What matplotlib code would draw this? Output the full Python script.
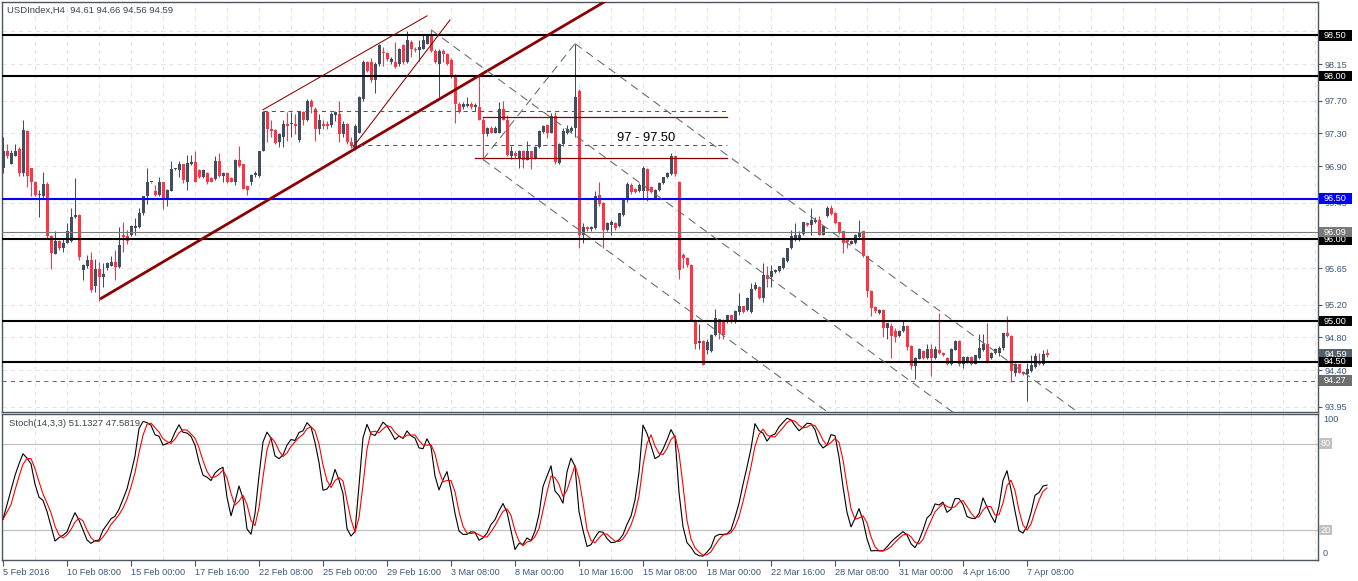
import numpy as np
import pandas as pd
import matplotlib
matplotlib.use('Agg')
import matplotlib.pyplot as plt
from matplotlib.patches import Rectangle
import matplotlib.transforms as mtransforms

plt.rcParams['font.family'] = ['Liberation Sans', 'DejaVu Sans']
plt.rcParams['lines.scale_dashes'] = False

# H4 bars, bar 0 = 5 Feb 2016
opens = [96.88, 97.08, 96.92, 97.02, 97.11, 96.81, 97.33, 96.87, 96.71, 96.55,
         96.53, 96.68, 96.04, 95.82, 95.98, 95.90, 95.96, 95.98, 96.27, 96.30,
         95.63, 95.67, 95.75, 95.43, 95.64, 95.54, 95.65, 95.68, 95.72, 95.66,
         96.05, 96.04, 96.06, 96.14, 96.15, 96.33, 96.53, 96.70, 96.59, 96.54,
         96.70, 96.48, 96.59, 96.86, 96.85, 96.92, 96.71, 96.92, 96.95, 96.85,
         96.76, 96.82, 96.75, 96.74, 96.96, 96.78, 96.82, 96.75, 96.71, 96.98,
         96.92, 96.65, 96.71, 96.79, 96.78, 97.08, 97.56, 97.35, 97.34, 97.19,
         97.26, 97.41, 97.41, 97.41, 97.22, 97.56, 97.47, 97.70, 97.60, 97.35,
         97.41, 97.41, 97.40, 97.52, 97.54, 97.29, 97.41, 97.20, 97.12, 97.31,
         97.72, 98.17, 98.17, 97.95, 98.15, 98.30, 98.28, 98.17, 98.17, 98.15,
         98.38, 98.17, 98.42, 98.34, 98.32, 98.34, 98.40, 98.50, 98.31, 98.15,
         98.31, 98.27, 98.20, 98.01, 97.66, 97.62, 97.63, 97.66, 97.62, 97.62,
         97.47, 97.29, 97.37, 97.31, 97.31, 97.60, 97.47, 97.02, 97.06, 97.00,
         97.08, 96.98, 97.08, 97.00, 97.13, 97.32, 97.40, 97.31, 97.51, 96.94,
         97.17, 97.31, 97.33, 97.37, 97.82, 96.06, 96.15, 96.13, 96.14, 96.54,
         96.45, 96.12, 96.18, 96.20, 96.16, 96.30, 96.48, 96.67, 96.62, 96.59,
         96.59, 96.86, 96.64, 96.51, 96.61, 96.69, 96.76, 96.80, 97.02, 96.71,
         95.81, 95.77, 95.69, 95.01, 94.73, 94.76, 94.64, 94.63, 94.83, 95.02,
         95.01, 94.99, 95.07, 94.99, 95.11, 95.18, 95.13, 95.11, 95.39, 95.42,
         95.28, 95.57, 95.54, 95.60, 95.61, 95.65, 95.74, 95.89, 95.99, 96.02,
         96.07, 96.20, 96.18, 96.21, 96.24, 96.06, 96.29, 96.39, 96.33, 96.21,
         96.10, 96.00, 95.95, 95.96, 96.03, 96.10, 95.80, 95.37, 95.17, 95.10,
         95.14, 94.92, 94.94, 94.88, 94.82, 94.88, 94.94, 94.70, 94.45, 94.54,
         94.63, 94.55, 94.66, 94.55, 94.65, 94.61, 94.55, 94.47, 94.65, 94.76,
         94.47, 94.50, 94.56, 94.48, 94.55, 94.65, 94.72, 94.55, 94.61, 94.61,
         94.67, 94.86, 94.82, 94.37, 94.47, 94.38, 94.35, 94.39, 94.44, 94.50,
         94.47, 94.61]
highs = [97.26, 97.17, 97.10, 97.17, 97.13, 97.47, 97.34, 96.88, 96.72, 96.61,
         96.83, 96.70, 96.06, 96.10, 95.99, 96.00, 96.20, 96.38, 96.75, 96.31,
         95.70, 95.81, 95.85, 95.76, 95.73, 95.71, 95.73, 95.80, 95.87, 96.15,
         96.22, 96.12, 96.18, 96.26, 96.39, 96.53, 96.87, 96.71, 96.67, 96.76,
         96.71, 96.62, 96.96, 96.87, 96.96, 96.93, 97.04, 97.04, 97.08, 96.86,
         96.86, 96.83, 96.76, 97.02, 97.06, 96.83, 96.83, 96.77, 96.99, 97.15,
         96.93, 96.66, 96.80, 96.84, 97.08, 97.58, 97.58, 97.47, 97.35, 97.30,
         97.47, 97.56, 97.56, 97.54, 97.56, 97.58, 97.72, 97.72, 97.62, 97.54,
         97.47, 97.45, 97.56, 97.58, 97.70, 97.45, 97.43, 97.26, 97.42, 97.76,
         98.20, 98.19, 98.22, 98.17, 98.39, 98.36, 98.30, 98.24, 98.42, 98.35,
         98.40, 98.56, 98.44, 98.36, 98.44, 98.50, 98.52, 98.57, 98.33, 98.33,
         98.33, 98.28, 98.22, 98.03, 97.68, 97.68, 97.74, 97.68, 97.67, 98.01,
         97.49, 97.38, 97.39, 97.39, 97.68, 97.70, 97.52, 97.15, 97.08, 97.10,
         97.10, 97.21, 97.09, 97.14, 97.34, 97.40, 97.41, 97.55, 97.56, 97.18,
         97.36, 97.40, 97.39, 98.40, 97.84, 96.20, 96.16, 96.17, 96.59, 96.71,
         96.46, 96.21, 96.24, 96.21, 96.33, 96.50, 96.70, 96.69, 96.63, 96.69,
         96.90, 96.87, 96.65, 96.62, 96.70, 96.77, 96.83, 97.06, 97.04, 96.72,
         95.83, 95.79, 95.70, 95.02, 94.97, 94.77, 94.78, 94.84, 95.15, 95.03,
         95.02, 95.08, 95.08, 95.13, 95.34, 95.19, 95.29, 95.47, 95.48, 95.43,
         95.71, 95.67, 95.69, 95.64, 95.68, 95.78, 95.90, 96.12, 96.20, 96.10,
         96.22, 96.21, 96.39, 96.28, 96.29, 96.17, 96.41, 96.42, 96.34, 96.22,
         96.11, 96.01, 95.99, 96.07, 96.24, 96.11, 95.81, 95.38, 95.18, 95.15,
         95.15, 94.98, 94.98, 94.92, 94.89, 95.01, 94.95, 94.71, 94.56, 94.67,
         94.64, 94.72, 94.72, 94.70, 95.10, 94.62, 94.56, 94.67, 94.77, 94.77,
         94.57, 94.57, 94.57, 94.59, 94.84, 94.84, 94.98, 94.62, 94.67, 94.70,
         94.86, 95.06, 94.83, 94.49, 94.48, 94.39, 94.49, 94.59, 94.61, 94.61,
         94.65, 94.66]
lows = [96.82, 97.00, 96.92, 97.02, 96.78, 96.78, 96.64, 96.53, 96.53, 96.28,
        96.49, 96.00, 95.64, 95.82, 95.87, 95.85, 95.96, 95.97, 96.26, 95.75,
        95.50, 95.65, 95.36, 95.36, 95.25, 95.42, 95.63, 95.67, 95.50, 95.65,
        95.85, 95.94, 96.04, 96.06, 96.14, 96.30, 96.43, 96.69, 96.53, 96.53,
        96.37, 96.41, 96.59, 96.85, 96.76, 96.69, 96.61, 96.91, 96.70, 96.75,
        96.75, 96.68, 96.70, 96.73, 96.77, 96.71, 96.69, 96.70, 96.67, 96.89,
        96.62, 96.55, 96.67, 96.76, 96.77, 97.08, 97.19, 97.25, 97.17, 97.13,
        97.13, 97.21, 97.25, 97.29, 97.20, 97.40, 97.45, 97.55, 97.21, 97.29,
        97.35, 97.35, 97.38, 97.45, 97.19, 97.25, 97.17, 97.12, 97.10, 97.30,
        97.70, 98.05, 97.93, 97.80, 98.13, 98.13, 98.19, 98.15, 98.10, 98.13,
        98.15, 98.16, 98.23, 98.30, 98.19, 98.33, 98.39, 98.30, 98.16, 97.74,
        98.17, 98.14, 97.98, 97.43, 97.55, 97.60, 97.62, 97.60, 97.58, 97.47,
        96.98, 97.27, 97.30, 97.30, 97.30, 97.46, 97.02, 96.99, 97.00, 96.88,
        96.88, 96.97, 96.86, 96.99, 97.12, 97.30, 97.24, 97.30, 96.92, 96.92,
        97.15, 97.29, 97.30, 97.25, 95.89, 95.96, 96.10, 96.11, 96.13, 96.41,
        95.89, 96.11, 96.06, 96.12, 96.15, 96.29, 96.46, 96.56, 96.57, 96.58,
        96.51, 96.47, 96.57, 96.49, 96.60, 96.68, 96.75, 96.79, 96.78, 95.52,
        95.65, 95.66, 95.00, 94.66, 94.66, 94.46, 94.60, 94.62, 94.82, 94.78,
        94.78, 94.98, 94.98, 94.98, 95.07, 95.10, 95.12, 95.10, 95.38, 95.27,
        95.24, 95.42, 95.42, 95.59, 95.60, 95.64, 95.73, 95.88, 95.98, 95.98,
        96.06, 96.17, 96.06, 96.20, 96.05, 96.05, 96.28, 96.30, 96.19, 96.07,
        95.84, 95.90, 95.94, 95.94, 96.02, 95.79, 95.30, 95.06, 95.10, 95.09,
        94.80, 94.78, 94.55, 94.74, 94.81, 94.87, 94.65, 94.41, 94.29, 94.53,
        94.54, 94.53, 94.33, 94.53, 94.60, 94.57, 94.46, 94.46, 94.64, 94.45,
        94.43, 94.49, 94.46, 94.47, 94.53, 94.63, 94.49, 94.54, 94.60, 94.57,
        94.65, 94.81, 94.25, 94.33, 94.36, 94.34, 94.02, 94.38, 94.43, 94.46,
        94.46, 94.56]
closes = [97.08, 97.02, 97.06, 97.09, 96.81, 97.34, 96.78, 96.71, 96.55, 96.56,
          96.68, 96.04, 95.83, 95.98, 95.89, 95.96, 96.11, 96.28, 96.30, 95.79,
          95.69, 95.75, 95.38, 95.64, 95.54, 95.58, 95.71, 95.72, 95.66, 95.93,
          96.03, 95.98, 96.16, 96.16, 96.33, 96.53, 96.71, 96.70, 96.55, 96.70,
          96.48, 96.61, 96.86, 96.86, 96.92, 96.73, 96.94, 96.95, 96.71, 96.76,
          96.85, 96.71, 96.71, 96.96, 96.78, 96.82, 96.71, 96.71, 96.97, 96.90,
          96.62, 96.61, 96.79, 96.82, 97.08, 97.56, 97.35, 97.33, 97.18, 97.29,
          97.41, 97.39, 97.41, 97.39, 97.56, 97.46, 97.70, 97.62, 97.35, 97.47,
          97.39, 97.39, 97.54, 97.56, 97.29, 97.41, 97.19, 97.15, 97.39, 97.74,
          98.17, 98.06, 97.95, 98.15, 98.38, 98.28, 98.21, 98.21, 98.11, 98.33,
          98.17, 98.44, 98.34, 98.32, 98.36, 98.44, 98.50, 98.31, 98.17, 98.31,
          98.27, 98.15, 97.99, 97.66, 97.56, 97.66, 97.66, 97.62, 97.65, 97.47,
          97.29, 97.37, 97.31, 97.37, 97.60, 97.47, 97.04, 97.09, 97.02, 97.08,
          96.98, 97.08, 97.00, 97.13, 97.33, 97.39, 97.31, 97.51, 96.95, 97.17,
          97.33, 97.35, 97.37, 97.75, 96.06, 96.15, 96.13, 96.15, 96.53, 96.43,
          96.12, 96.20, 96.22, 96.14, 96.32, 96.49, 96.68, 96.58, 96.58, 96.67,
          96.88, 96.59, 96.58, 96.61, 96.69, 96.76, 96.82, 97.02, 96.80, 95.63,
          95.77, 95.69, 95.01, 94.72, 94.76, 94.46, 94.74, 94.83, 95.04, 94.85,
          94.83, 95.07, 94.99, 95.12, 95.19, 95.11, 95.28, 95.39, 95.44, 95.28,
          95.57, 95.52, 95.61, 95.63, 95.67, 95.77, 95.89, 96.04, 96.06, 96.06,
          96.21, 96.18, 96.24, 96.24, 96.06, 96.16, 96.39, 96.31, 96.20, 96.08,
          95.96, 95.97, 95.98, 96.06, 96.09, 95.80, 95.37, 95.16, 95.12, 95.14,
          94.91, 94.98, 94.82, 94.80, 94.88, 94.94, 94.68, 94.45, 94.55, 94.66,
          94.55, 94.66, 94.55, 94.66, 94.61, 94.58, 94.47, 94.66, 94.76, 94.47,
          94.56, 94.56, 94.47, 94.58, 94.67, 94.72, 94.50, 94.61, 94.66, 94.67,
          94.86, 94.82, 94.39, 94.47, 94.37, 94.35, 94.41, 94.46, 94.57, 94.47,
          94.60, 94.59]

# %K for the first bars (no 14-bar history in view)
stoch_k_start = [27.6, 37.7, 47.8, 58.0, 66.0, 73.0, 70.0, 66.0, 52.0, 43.0,
                 40.7, 33.0, 23.0, 12.6, 15.0]

time_labels = ['5 Feb 2016', '10 Feb 08:00', '15 Feb 00:00', '17 Feb 16:00',
               '22 Feb 08:00', '25 Feb 00:00', '29 Feb 16:00', '3 Mar 08:00',
               '8 Mar 00:00', '10 Mar 16:00', '15 Mar 08:00', '18 Mar 00:00',
               '22 Mar 16:00', '28 Mar 08:00', '31 Mar 00:00', '4 Apr 16:00',
               '7 Apr 08:00']
price_ticks = [98.55, 98.15, 97.70, 97.30, 96.90, 96.45, 96.05, 95.65,
               95.20, 94.80, 94.40, 93.95]
# tick labels that sit fully under a price box on the reference
hidden_ticks = [98.55, 96.05]

# horizontal levels drawn on the chart
black_levels = [98.50, 98.00, 96.00, 95.00, 94.50]
blue_level = 96.50
gray_level = 96.09
dash_level = 94.27
last_price = 94.59

# trend lines: (bar, price) anchors
bold_trend = [(24.25, 95.27), (149.25, 98.88)]
wedge_upper = [(65, 97.59), (106, 98.74)]
wedge_lower = [(87.5, 97.13), (111.75, 98.69)]
# 97 - 97.50 zone
zone_lines = [(97.50, 120, 181), (97.00, 118, 181)]
zone_dashes = [(97.58, 65, 181), (97.16, 87, 181)]
# pitchfork anchors
fork_x = [107, 120, 143]
fork_y = [98.57, 96.98, 98.40]

BULL = '#404e5f'
BEAR = '#ff3344'
AXC = '#39597c'
FRAME = '#4c5661'
GRID = '#e4e4e4'

W, H = 1358, 581
fig = plt.figure(figsize=(W / 100, H / 100), dpi=100)
ax = fig.add_axes([2 / W, (H - 412) / H, 1316 / W, 410 / H])
axs = fig.add_axes([2 / W, (H - 560) / H, 1316 / W, 146 / H])

xmin, xmax = -0.25, 328.75
ymin, ymax = 93.886, 98.91
ppu = 410 / (ymax - ymin)

for a in (ax, axs):
    a.set_xlim(xmin, xmax)
    for s in a.spines.values():
        s.set_color(FRAME)
        s.set_linewidth(1)
    a.set_xticks(np.arange(0, 329, 8), minor=True)
    a.grid(True, which='minor', axis='x', color=GRID, lw=0.75, ls=(0, (3, 3)), zorder=0)
    a.tick_params(which='minor', length=0)
    a.set_axisbelow(True)

ax.set_ylim(ymin, ymax)

o = np.array(opens)
h = np.array(highs)
l = np.array(lows)
c = np.array(closes)
x = np.arange(len(c))
col = np.where(c >= o, BULL, BEAR)

ax.vlines(x, l, h, colors=col, lw=0.75, zorder=3)
ax.bar(x, np.maximum(np.abs(c - o), 0.012), bottom=np.minimum(o, c), width=0.75,
       color=col, linewidth=0, zorder=3)

# levels
for v in black_levels:
    ax.axhline(v, color='black', lw=1.5, zorder=4)
ax.axhline(blue_level, color='#0000ff', lw=1.5, zorder=4)
ax.axhline(gray_level, color='#7a7a7a', lw=0.8, zorder=4)
ax.axhline(dash_level, color='#6a6a6a', lw=0.75, ls=(0, (3, 3)), zorder=4)

# trend lines


def ray(p, q, x_end=xmax):
    k = (q[1] - p[1]) / (q[0] - p[0])
    return [p[0], x_end], [p[1], p[1] + k * (x_end - p[0])]


bx, by = ray(*bold_trend, x_end=170)
ax.plot(bx, by, color='#8b0000', lw=2.0, zorder=5, solid_capstyle='butt')
for seg in (wedge_upper, wedge_lower):
    ax.plot([seg[0][0], seg[1][0]], [seg[0][1], seg[1][1]], color='#8b0000', lw=0.75, zorder=5)
for v, x0, x1 in zone_lines:
    ax.plot([x0, x1], [v, v], color='#8b0000', lw=0.9, zorder=5)
for v, x0, x1 in zone_dashes:
    ax.plot([x0, x1], [v, v], color='#555555', lw=0.75, ls=(0, (3, 3)), zorder=5)

# pitchfork
mx = (fork_x[1] + fork_x[2]) / 2
my = (fork_y[1] + fork_y[2]) / 2
slope = (my - fork_y[0]) / (mx - fork_x[0])
fork_style = dict(color='#666666', lw=0.75, ls=(0, (6, 4)), zorder=5)
for px, py in zip(fork_x, fork_y):
    ax.plot([px, xmax], [py, py + slope * (xmax - px)], **fork_style)
ax.plot(fork_x[1:], fork_y[1:], **fork_style)

ax.text(153.5, 97.24, '97 - 97.50', fontsize=9.3, color='black', va='center', ha='left', zorder=6)

# price axis
ax.yaxis.tick_right()
ax.set_yticks(price_ticks)
ax.set_yticklabels(['' if v in hidden_ticks else f'{v:.2f}' for v in price_ticks])
ax.tick_params(axis='y', length=3, width=0.8, color=FRAME, labelsize=6.6, labelcolor=AXC, pad=2)
ax.tick_params(axis='x', which='both', length=0, labelbottom=False)
ax.grid(True, which='major', axis='y', color=GRID, lw=0.75, ls=(0, (3, 3)), zorder=0)

bt = mtransforms.blended_transform_factory(ax.transAxes, ax.transData)


def price_box(val, fc, z):
    ax.add_patch(Rectangle((1 + 1 / 1316, val - 5.2 / ppu), 33 / 1316, 10.5 / ppu, transform=bt,
                           fc=fc, ec='none', clip_on=False, zorder=z))
    ax.text(1 + 17.5 / 1316, val, f'{val:.2f}', transform=bt, color='white', fontsize=6.6,
            ha='center', va='center', clip_on=False, zorder=z + 0.1)


price_box(last_price, '#56606b', 7)
price_box(94.50, 'black', 8)
price_box(dash_level, '#6e6e6e', 8)
price_box(96.00, 'black', 7)
price_box(gray_level, '#7a7a7a', 8)
for v in (98.50, 98.00, 95.00):
    price_box(v, 'black', 8)
price_box(blue_level, '#0000ff', 8)

fig.text(7 / W, 1 - 10 / H, 'USDIndex,H4  94.61 94.66 94.56 94.59', fontsize=6.8,
         color='#3a4450', va='center', ha='left')

# stochastic 14,3,3
hh = pd.Series(h).rolling(14).max()
ll = pd.Series(l).rolling(14).min()
k_line = 100 * (pd.Series(c) - ll).rolling(3).sum() / (hh - ll).rolling(3).sum()
n0 = len(stoch_k_start)
k_line.iloc[:n0] = stoch_k_start
d_line = k_line.rolling(3, min_periods=1).mean()

axs.set_ylim(-0.5, 100.5)
axs.axhline(80, color='#c0c0c0', lw=0.9, zorder=1)
axs.axhline(20, color='#c0c0c0', lw=0.9, zorder=1)
axs.plot(x, k_line, color='black', lw=0.8, zorder=3)
axs.plot(x, d_line, color='#ff0000', lw=0.8, zorder=3)
axs.set_yticks([])
bts = mtransforms.blended_transform_factory(axs.transAxes, axs.transData)
for v in (80, 20):
    axs.add_patch(Rectangle((1 + 1 / 1316, v - 5 / 1.45), 13 / 1316, 10.5 / 1.45, transform=bts,
                            fc='#c0c0c0', ec='none', clip_on=False, zorder=6))
    axs.text(1 + 7.5 / 1316, v, str(v), transform=bts, color='white', fontsize=6.6,
             ha='center', va='center', clip_on=False, zorder=7)
axs.text(1 + 5 / 1316, 100, '100', transform=bts, color=AXC, fontsize=6.6, ha='left', va='top')
axs.text(1 + 5 / 1316, 1, '0', transform=bts, color=AXC, fontsize=6.6, ha='left', va='bottom')
axs.text(7 / 1316, 1 - 10 / 146, 'Stoch(14,3,3) 51.1327 47.5819', transform=axs.transAxes,
         fontsize=6.8, color='#3a4450', va='center', ha='left')

axs.set_xticks(np.arange(0, 257, 16))
axs.set_xticklabels(time_labels, ha='left')
axs.tick_params(axis='x', length=4, width=0.8, color=FRAME, labelsize=6.6, labelcolor=AXC, pad=2)

fig.savefig('out.png', dpi=100)
